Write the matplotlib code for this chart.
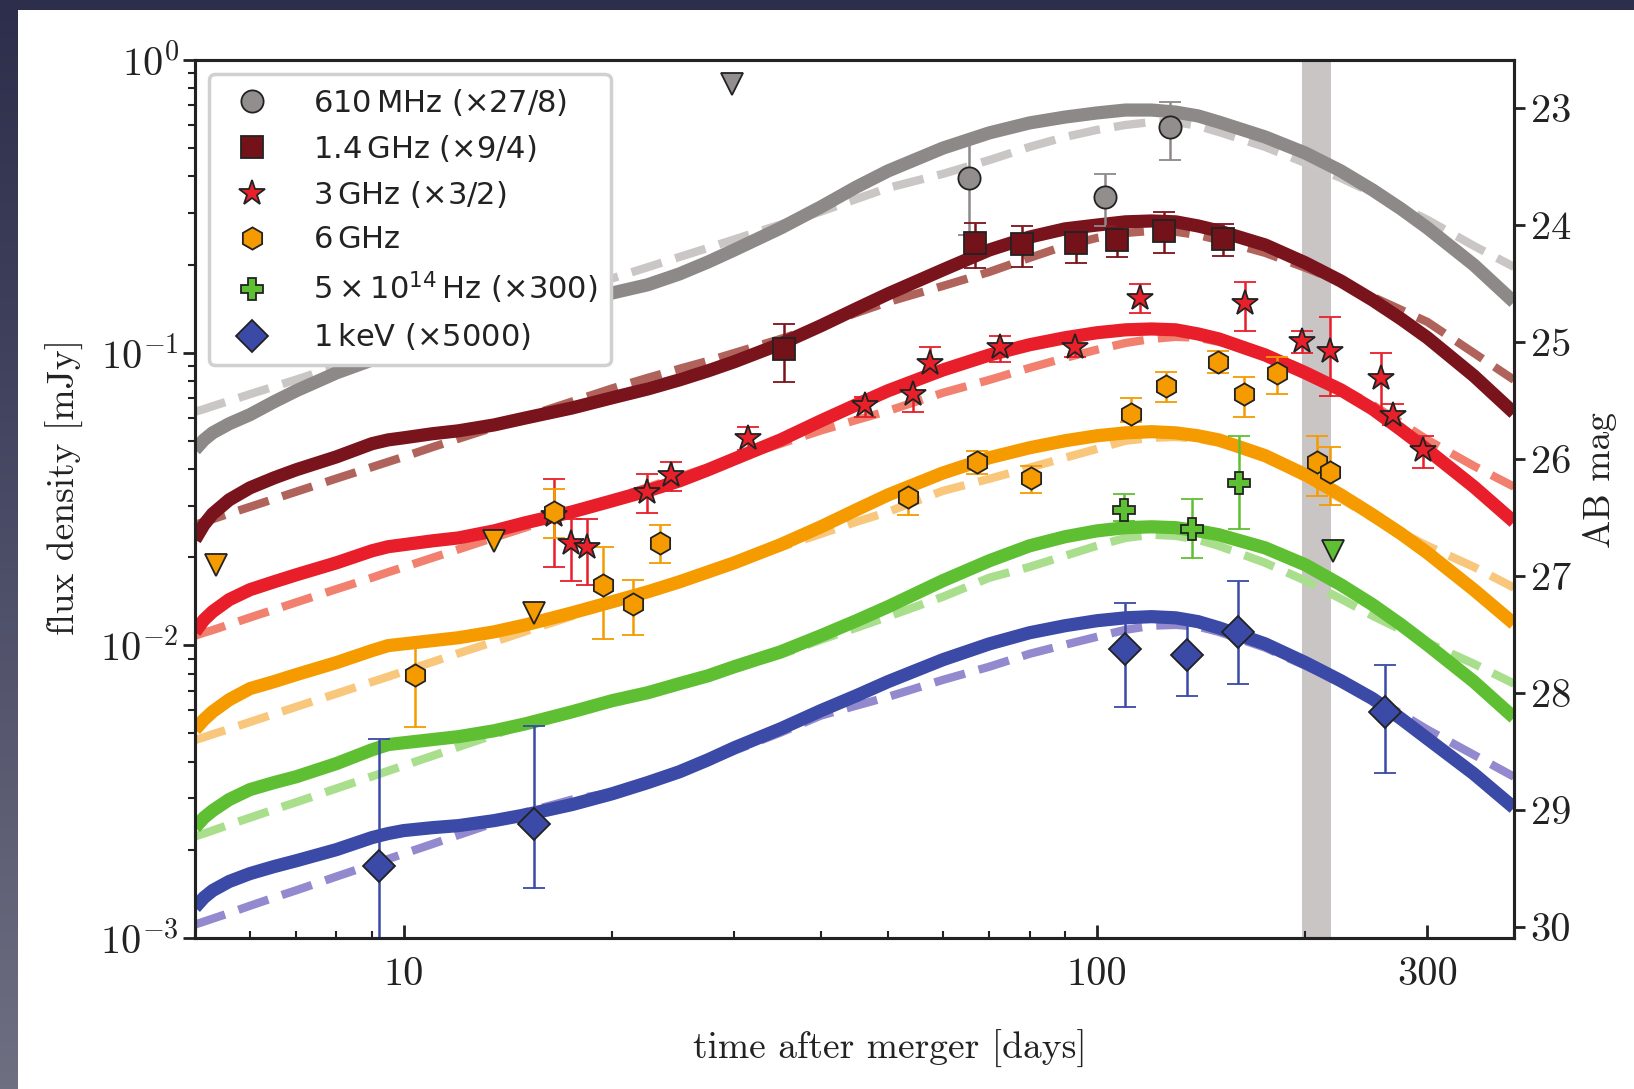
import numpy as np
import matplotlib
matplotlib.use('Agg')
import matplotlib.pyplot as plt
from matplotlib.font_manager import FontProperties
from matplotlib.patches import Rectangle
from matplotlib.lines import Line2D
from matplotlib.colors import LinearSegmentedColormap
from matplotlib.ticker import LogLocator, FixedLocator, FuncFormatter, NullFormatter

plt.rcParams['mathtext.fontset'] = 'cm'

# ---------------- data ----------------
# model time grid [days]
t_model = [5, 5.15, 5.3, 5.6, 6, 6.5, 7, 8, 9, 9.5,
           10, 11, 12, 13.5, 15, 17.5, 20, 22.5, 25, 27.5,
           30, 35, 40, 45, 50, 60, 70, 80, 90, 100,
           110, 120, 130, 140, 150, 175, 200, 225, 250, 275,
           300, 350, 400]

# model curves: log10(flux density / mJy); solid = full model, dash = alternative model
lg_610_solid = [-1.332, -1.298, -1.274, -1.243, -1.212, -1.168, -1.130, -1.069, -1.025, -1.008,
                -0.990, -0.963, -0.939, -0.908, -0.878, -0.833, -0.796, -0.768, -0.731, -0.690,
                -0.649, -0.574, -0.502, -0.434, -0.379, -0.301, -0.249, -0.215, -0.195, -0.181,
                -0.171, -0.171, -0.178, -0.191, -0.212, -0.263, -0.318, -0.379, -0.444, -0.509,
                -0.574, -0.700, -0.827]
lg_610_dash = [-1.202, -1.193, -1.183, -1.165, -1.142, -1.116, -1.092, -1.047, -1.009, -0.991,
               -0.974, -0.943, -0.914, -0.875, -0.841, -0.790, -0.746, -0.708, -0.673, -0.642,
               -0.613, -0.562, -0.518, -0.475, -0.437, -0.389, -0.342, -0.297, -0.263, -0.239,
               -0.222, -0.212, -0.212, -0.225, -0.246, -0.297, -0.352, -0.403, -0.454, -0.502,
               -0.546, -0.635, -0.707]
lg_1p4_solid = [-1.639, -1.588, -1.551, -1.503, -1.462, -1.428, -1.400, -1.356, -1.311, -1.298,
                -1.291, -1.277, -1.267, -1.247, -1.223, -1.189, -1.154, -1.124, -1.093, -1.062,
                -1.031, -0.970, -0.908, -0.850, -0.799, -0.717, -0.649, -0.605, -0.577, -0.564,
                -0.553, -0.550, -0.553, -0.567, -0.584, -0.632, -0.693, -0.755, -0.820, -0.885,
                -0.949, -1.079, -1.206]
lg_1p4_dash = [-1.588, -1.578, -1.569, -1.550, -1.527, -1.500, -1.475, -1.430, -1.391, -1.373,
               -1.356, -1.323, -1.294, -1.255, -1.219, -1.167, -1.122, -1.086, -1.055, -1.028,
               -1.001, -0.953, -0.908, -0.864, -0.827, -0.772, -0.724, -0.676, -0.635, -0.608,
               -0.591, -0.584, -0.587, -0.598, -0.615, -0.659, -0.710, -0.758, -0.809, -0.854,
               -0.895, -1.001, -1.093]
lg_3_solid = [-1.954, -1.913, -1.885, -1.844, -1.810, -1.783, -1.759, -1.718, -1.677, -1.663,
              -1.656, -1.643, -1.633, -1.609, -1.581, -1.544, -1.506, -1.472, -1.438, -1.400,
              -1.363, -1.298, -1.233, -1.178, -1.130, -1.059, -1.008, -0.973, -0.949, -0.932,
              -0.922, -0.919, -0.922, -0.936, -0.953, -1.008, -1.069, -1.127, -1.192, -1.264,
              -1.332, -1.458, -1.578]
lg_3_dash = [-1.967, -1.957, -1.948, -1.929, -1.905, -1.878, -1.853, -1.808, -1.769, -1.750,
             -1.733, -1.701, -1.672, -1.632, -1.597, -1.545, -1.500, -1.460, -1.424, -1.392,
             -1.363, -1.311, -1.266, -1.230, -1.199, -1.137, -1.093, -1.052, -1.018, -0.990,
             -0.967, -0.953, -0.946, -0.949, -0.963, -1.001, -1.059, -1.120, -1.178, -1.240,
             -1.298, -1.387, -1.458]
lg_6_solid = [-2.288, -2.254, -2.227, -2.186, -2.148, -2.124, -2.100, -2.059, -2.018, -2.001,
              -1.995, -1.984, -1.974, -1.954, -1.930, -1.889, -1.851, -1.817, -1.783, -1.749,
              -1.718, -1.656, -1.595, -1.537, -1.486, -1.411, -1.359, -1.325, -1.301, -1.284,
              -1.274, -1.270, -1.274, -1.284, -1.298, -1.352, -1.417, -1.486, -1.554, -1.619,
              -1.684, -1.810, -1.926]
lg_6_dash = [-2.324, -2.314, -2.304, -2.286, -2.262, -2.235, -2.210, -2.165, -2.125, -2.107,
             -2.089, -2.057, -2.027, -1.988, -1.952, -1.900, -1.855, -1.815, -1.779, -1.747,
             -1.717, -1.665, -1.619, -1.578, -1.544, -1.472, -1.431, -1.393, -1.359, -1.329,
             -1.301, -1.291, -1.288, -1.294, -1.308, -1.356, -1.428, -1.499, -1.564, -1.615,
             -1.660, -1.732, -1.803]
lg_opt_solid = [-2.623, -2.589, -2.565, -2.527, -2.493, -2.469, -2.449, -2.404, -2.357, -2.339,
                -2.333, -2.322, -2.312, -2.292, -2.268, -2.227, -2.189, -2.162, -2.131, -2.104,
                -2.073, -2.022, -1.967, -1.916, -1.868, -1.779, -1.711, -1.660, -1.629, -1.609,
                -1.598, -1.595, -1.598, -1.609, -1.622, -1.667, -1.725, -1.793, -1.861, -1.930,
                -1.998, -2.124, -2.247]
lg_opt_dash = [-2.653, -2.643, -2.633, -2.613, -2.589, -2.561, -2.536, -2.489, -2.448, -2.429,
               -2.411, -2.378, -2.347, -2.306, -2.269, -2.223, -2.189, -2.162, -2.135, -2.107,
               -2.080, -2.032, -1.981, -1.940, -1.902, -1.834, -1.769, -1.732, -1.694, -1.660,
               -1.633, -1.622, -1.626, -1.639, -1.660, -1.718, -1.779, -1.841, -1.899, -1.947,
               -1.991, -2.063, -2.131]
lg_x_solid = [-2.896, -2.862, -2.838, -2.807, -2.780, -2.756, -2.736, -2.698, -2.657, -2.643,
              -2.633, -2.623, -2.616, -2.599, -2.579, -2.544, -2.507, -2.469, -2.432, -2.391,
              -2.350, -2.285, -2.223, -2.172, -2.124, -2.049, -1.995, -1.957, -1.933, -1.916,
              -1.906, -1.902, -1.906, -1.919, -1.940, -1.995, -2.059, -2.121, -2.182, -2.251,
              -2.319, -2.439, -2.555]
lg_x_dash = [-2.954, -2.944, -2.934, -2.915, -2.890, -2.862, -2.837, -2.790, -2.749, -2.730,
             -2.712, -2.679, -2.648, -2.607, -2.570, -2.527, -2.503, -2.469, -2.435, -2.398,
             -2.360, -2.298, -2.240, -2.206, -2.176, -2.118, -2.073, -2.029, -1.998, -1.971,
             -1.947, -1.933, -1.930, -1.936, -1.954, -2.008, -2.070, -2.124, -2.176, -2.234,
             -2.288, -2.374, -2.449]

# observations [days], flux [mJy], lower / upper error-bar ends [mJy]
t_610 = [65.4, 102.8, 127.4]
f_610 = [0.394, 0.340, 0.589]
lo_610 = [0.253, 0.271, 0.455]
hi_610 = [0.533, 0.408, 0.721]
t_610_ul = [19.2, 29.8]
f_610_ul = [0.478, 0.828]

t_1p4 = [35.4, 66.8, 78.0, 93.4, 107.0, 124.9, 152.0]
f_1p4 = [0.1028, 0.2366, 0.2346, 0.2377, 0.2428, 0.2606, 0.2447]
lo_1p4 = [0.0791, 0.194, 0.1968, 0.203, 0.212, 0.2187, 0.2142]
hi_1p4 = [0.1254, 0.278, 0.2717, 0.265, 0.270, 0.303, 0.2754]

t_3 = [16.5, 17.44, 18.41, 22.43, 24.31, 31.37, 46.3, 54.4, 57.4, 72.5, 93.1, 115.3, 163.4, 197.5, 217.2, 257.0, 267.4, 295.2]
f_3 = [0.0279, 0.02235, 0.0216, 0.03354, 0.03825, 0.0512, 0.066, 0.0722, 0.0921, 0.1044, 0.1049, 0.1542, 0.1476, 0.1100,
       0.1017, 0.0822, 0.0610, 0.0464]
lo_3 = [0.01845, 0.01662, 0.01602, 0.02843, 0.0338, 0.0466, 0.0605, 0.0626, 0.0851, 0.0932, 0.097, 0.1364, 0.1187, 0.0996,
        0.0712, 0.0618, 0.0567, 0.0403]
hi_3 = [0.0371, 0.0271, 0.0271, 0.0386, 0.0424, 0.0559, 0.0708, 0.0797, 0.1044, 0.1141, 0.112, 0.1714, 0.1741, 0.119,
        0.1328, 0.0996, 0.0668, 0.0521]

t_6 = [10.4, 16.5, 19.42, 21.45, 23.44, 53.4, 67.2, 80.3, 112.1, 125.7, 149.7, 163.2, 182.3, 208.2, 217.2]
f_6 = [0.00789, 0.02866, 0.0161, 0.01384, 0.0224, 0.0322, 0.0424, 0.0373, 0.0618, 0.077, 0.0932, 0.0723, 0.085, 0.0422, 0.0391]
lo_6 = [0.00525, 0.02325, 0.0105, 0.01081, 0.01905, 0.0279, 0.0385, 0.0331, 0.058, 0.0679, 0.0855, 0.0603, 0.0722, 0.0325, 0.0301]
hi_6 = [0.01045, 0.0342, 0.0216, 0.01667, 0.0257, 0.0354, 0.0463, 0.0411, 0.0701, 0.0862, 0.1014, 0.0827, 0.097, 0.0521, 0.0477]
t_6_ul = [5.36, 13.5, 15.43]
f_6_ul = [0.01885, 0.0228, 0.01285]

t_opt = [109.4, 137.4, 160.6]
f_opt = [0.0289, 0.02507, 0.036]
lo_opt = [0.0265, 0.01987, 0.0249]
hi_opt = [0.0328, 0.0315, 0.0518]
t_opt_ul = [219.4]
f_opt_ul = [0.0210]

t_x = [9.22, 15.43, 109.7, 135.1, 160.0, 261.0]
f_x = [0.001757, 0.00246, 0.0097, 0.00924, 0.0111, 0.00592]
lo_x = [0.0004, 0.001483, 0.00618, 0.00671, 0.00738, 0.00365]
hi_x = [0.004786, 0.00531, 0.01393, 0.01198, 0.01654, 0.00859]

band_days = [198, 218]

labels = [r'610$\,$MHz $(\times27/8)$', r'1.4$\,$GHz $(\times9/4)$', r'3$\,$GHz $(\times3/2)$',
          r'6$\,$GHz', r'$5\times10^{14}\,$Hz $(\times300)$', r'1$\,$keV $(\times5000)$']

# ---------------- styles ----------------
c_solid = ['#8e8989', '#7a141c', '#e81e2a', '#f59b00', '#5fbf33', '#3a4aa6']
c_dash = ['#cbc6c6', '#b0635b', '#f2806f', '#f8c77c', '#a9de8c', '#9389cf']
c_mark = ['#928e8e', '#731218', '#e8202a', '#f59b00', '#5fbf33', '#3a4aa6']
markers = ['o', 's', '*', 'h', 'P', 'D']
msizes = [16, 16, 19, 16, 16, 16]
edge = '#222222'

fig = plt.figure(figsize=(16.34, 10.89), dpi=100)

# slide-like background
bg = fig.add_axes([0, 0, 1, 1], zorder=-10)
grad = np.linspace(0, 1, 256).reshape(-1, 1)
cmap = LinearSegmentedColormap.from_list('bg', ['#2c2e4b', '#4b4c66', '#6f6f82'])
bg.imshow(grad, aspect='auto', cmap=cmap, extent=[0, 1, 0, 1], origin='upper')
bg.add_patch(Rectangle((18 / 1634, 0), 1, 1 - 10 / 1089, transform=bg.transAxes, color='white', lw=0))
bg.set_xlim(0, 1)
bg.set_ylim(0, 1)
bg.axis('off')

ax = fig.add_axes([195 / 1634, 1 - 938 / 1089, 1319 / 1634, 878 / 1089])
ax.set_xscale('log')
ax.set_yscale('log')

ax.axvspan(band_days[0], band_days[1], color='#c9c5c5', lw=0, zorder=0)

solids = [lg_610_solid, lg_1p4_solid, lg_3_solid, lg_6_solid, lg_opt_solid, lg_x_solid]
dashes = [lg_610_dash, lg_1p4_dash, lg_3_dash, lg_6_dash, lg_opt_dash, lg_x_dash]
for i in range(6):
    ax.plot(t_model, 10 ** np.array(dashes[i]), color=c_dash[i], lw=6, dashes=(3.8, 1.7),
            dash_capstyle='butt', dash_joinstyle='round', zorder=2)
for i in range(6):
    ax.plot(t_model, 10 ** np.array(solids[i]), color=c_solid[i], lw=9.5, zorder=3,
            solid_joinstyle='round', solid_capstyle='butt')

obs = [(t_610, f_610, lo_610, hi_610), (t_1p4, f_1p4, lo_1p4, hi_1p4), (t_3, f_3, lo_3, hi_3),
       (t_6, f_6, lo_6, hi_6), (t_opt, f_opt, lo_opt, hi_opt), (t_x, f_x, lo_x, hi_x)]
for i, (t, f, lo, hi) in enumerate(obs):
    f = np.array(f)
    yerr = [f - np.array(lo), np.array(hi) - f]
    ax.errorbar(t, f, yerr=yerr, fmt=markers[i], ms=msizes[i], mfc=c_mark[i], mec=edge, mew=1.3,
                ecolor=c_solid[i], elinewidth=1.8, capsize=8, capthick=1.8, zorder=5)

for (t, f, c) in [(t_610_ul, f_610_ul, c_mark[0]), (t_6_ul, f_6_ul, c_mark[3]), (t_opt_ul, f_opt_ul, c_mark[4])]:
    ax.plot(t, f, 'v', ms=16.5, mfc=c, mec=edge, mew=1.3, ls='none', zorder=5)

ax.set_xlim(5, 400)
ax.set_ylim(1e-3, 1)

# ticks
ax.xaxis.set_major_locator(FixedLocator([10, 100, 300]))
ax.xaxis.set_major_formatter(FuncFormatter(lambda v, p: '%g' % v))
ax.xaxis.set_minor_locator(LogLocator(base=10, subs=np.arange(2, 10), numticks=20))
ax.xaxis.set_minor_formatter(NullFormatter())
ax.yaxis.set_major_locator(LogLocator(base=10, numticks=10))
ax.yaxis.set_major_formatter(FuncFormatter(lambda v, p: r'$10^{%d}$' % int(round(np.log10(v)))))
ax.yaxis.set_minor_locator(LogLocator(base=10, subs=np.arange(2, 10), numticks=20))
ax.yaxis.set_minor_formatter(NullFormatter())

ax.tick_params(axis='x', which='major', direction='in', length=9.5, width=2, labelsize=29, pad=14,
               colors='#222222', labelfontfamily='cmr10', top=False)
ax.tick_params(axis='x', which='minor', direction='in', length=5, width=1.5, colors='#222222', top=False)
ax.tick_params(axis='y', which='major', direction='out', length=8.5, width=2, labelsize=29, pad=3,
               colors='#222222', right=False)
ax.tick_params(axis='y', which='minor', direction='out', length=4.8, width=1.5, colors='#222222', right=False)
for s in ax.spines.values():
    s.set_linewidth(2.2)
    s.set_color('#222222')

ax2 = ax.twinx()
ax2.set_ylim(22.593 + 7.5, 22.593)
ax2.set_yticks(range(23, 31))
ax2.tick_params(axis='y', direction='out', length=8, width=2, labelsize=29, pad=4, colors='#222222',
                labelfontfamily='cmr10')
for s in ax2.spines.values():
    s.set_linewidth(2.2)
    s.set_color('#222222')

# labels
fig.text(890 / 1634, 1 - 1049 / 1089, 'time after merger [days]', family='cmr10', size=27,
         ha='center', va='center', color='#222222')
fig.text(65 / 1634, 1 - 487 / 1089, 'flux density [mJy]', family='cmr10', size=27, rotation=90,
         ha='center', va='center', color='#222222')
fig.text(1600 / 1634, 1 - 480 / 1089, 'AB mag', family='cmr10', size=27, rotation=90,
         ha='center', va='center', color='#222222')

# legend
handles = [Line2D([], [], ls='none', marker=markers[i], ms=msizes[i], mfc=c_mark[i], mec=edge, mew=1.3)
           for i in range(6)]
lp = FontProperties(family='DejaVu Sans', size=22, math_fontfamily='dejavusans')
leg = ax.legend(handles, labels, loc='upper left', prop=lp, framealpha=1, fancybox=True,
                edgecolor='#d0d0d0', handlelength=2.0, handletextpad=1.0, labelspacing=0.5,
                borderpad=0.42, borderaxespad=0.45)
leg.get_frame().set_linewidth(2.5)
for txt in leg.get_texts():
    txt.set_color('#222222')
leg.set_zorder(20)

fig.savefig('out.png', dpi=100)
